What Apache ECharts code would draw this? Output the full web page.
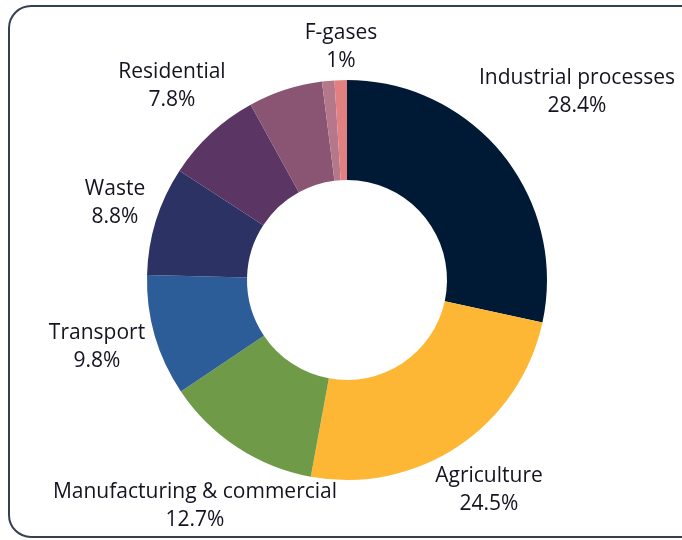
<!DOCTYPE html>
<html>
<head>
<meta charset="utf-8">
<script src="https://cdn.jsdelivr.net/npm/echarts@6/dist/echarts.min.js"></script>
<style>html,body{margin:0;padding:0;background:#fff;}#c{width:682px;height:540px;}</style>
</head>
<body>
<div id="c"></div>
<script>
var categories = ['Industrial processes', 'Agriculture', 'Manufacturing & commercial', 'Transport', 'Waste', 'Residential', 'Other', 'Other F-gases', 'F-gases'];
var values = [28.4, 24.5, 12.7, 9.8, 8.8, 7.8, 6.0, 1.0, 1.0];
var showLabel = [true, true, true, true, true, true, false, false, true];

var colors = ['#001a35', '#fdb734', '#6f9a48', '#2d5d98', '#2d3264', '#5b3665', '#8a5573', '#b5788b', '#e28081'];
var labelPos = [[577, 92], [489, 490], [195, 506], [97, 347], [115, 203], [172, 86], [0, 0], [0, 0], [341, 47]];

var chart = echarts.init(document.getElementById('c'));
chart.setOption({
  animation: false,
  graphic: [{
    type: 'rect',
    shape: {x: 9, y: 6, width: 720, height: 531, r: 22},
    style: {fill: 'none', stroke: '#34424f', lineWidth: 2},
    z: -1
  }],
  series: [{
    type: 'pie',
    center: [347, 280],
    radius: [100, 200],
    startAngle: 90,
    clockwise: true,
    avoidLabelOverlap: false,
    itemStyle: {borderWidth: 0},
    label: {
      show: true,
      position: 'outside',
      formatter: '{b}\n{c}%',
      fontFamily: 'Open Sans',
      fontSize: 21,
      fontWeight: 500,
      lineHeight: 28,
      color: '#141420',
      align: 'center'
    },
    labelLine: {show: false},
    labelLayout: function (p) {
      var pos = labelPos[p.dataIndex];
      return {x: pos[0], y: pos[1], align: 'center', verticalAlign: 'middle'};
    },
    emphasis: {disabled: true},
    data: categories.map(function (c, i) {
      return {name: c, value: values[i], itemStyle: {color: colors[i]}, label: {show: showLabel[i]}};
    })
  }]
});
</script>
</body>
</html>
